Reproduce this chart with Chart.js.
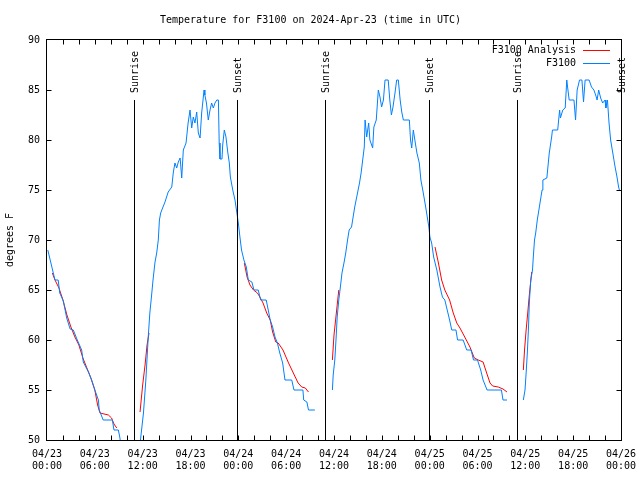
<!DOCTYPE html>
<html>
<head>
<meta charset="utf-8">
<title>Temperature for F3100</title>
<script src="https://cdn.jsdelivr.net/npm/chart.js@4/dist/chart.umd.min.js"></script>
<style>
	html, body { margin: 0; padding: 0; background: #ffffff; }
	canvas { display: block; }
</style>
</head>
<body>
<canvas id="chart" width="640" height="480"></canvas>
<script>

// hours since 2024-04-23 00:00 UTC, null marks a gap in the record

const obsHours = [
	0.1, 0.55, 1.0, 1.4, 1.6, 2.05, 2.47, 2.9, 3.3, 3.8, 4.35, 4.55, 5.2, 5.6, 6.0, 6.45, 6.55, 7.05, 8.2, 8.4, 8.95, 9.15, 9.3,
	10.5,
	11.6, 11.75, 12.1, 12.4, 12.7, 12.9, 13.1, 13.3, 13.55, 13.76,
	13.96, 14.1, 14.26, 14.5, 14.8, 15.2, 15.65, 15.85, 16.05, 16.27,
	16.47, 16.7, 16.9, 17.1, 17.44, 17.7, 17.94, 18.15, 18.35, 18.56,
	18.78, 18.98, 19.2, 19.4, 19.7, 19.8, 20.0, 20.23, 20.45, 20.65,
	20.86, 21.07, 21.3, 21.5, 21.6, 21.7, 21.95, 22.04, 22.24, 22.45,
	22.67, 22.87, 23.0, 23.3, 23.58, 23.8, 24.0, 24.2, 24.4, 24.7,
	25.0, 25.25, 25.7, 25.96, 26.5, 26.8, 27.5, 27.75, 28.0, 28.3,
	28.6, 28.9, 29.2, 29.56, 29.85, 30.7, 30.98, 32.1, 32.2, 32.6, 32.8, 33.6,
	34.7,
	35.8, 35.9, 36.1, 36.25, 36.4, 36.6, 36.8, 37.0, 37.25, 37.47,
	37.7, 37.9, 38.2, 38.4, 38.6, 38.9, 39.2, 39.4, 39.6, 39.8,
	39.9, 40.1, 40.35, 40.5, 40.85, 41.0, 41.3, 41.56, 41.77, 41.97,
	42.2, 42.4, 42.8, 43.0, 43.2, 43.4, 43.65, 43.86, 44.07, 44.3,
	44.5, 44.7, 45.45, 45.6, 45.75, 45.95, 46.2, 46.4, 46.7, 46.9,
	47.2, 47.5, 47.7, 47.9, 48.03, 48.25, 48.5, 48.9, 49.3, 49.6,
	49.9, 50.2, 50.5, 50.77, 51.3, 51.5, 52.2, 52.65, 53.2, 53.5,
	54.0, 54.4, 54.7, 55.2, 57.0, 57.2, 57.7,
	58.7,
	59.75, 59.96, 60.1, 60.25, 60.4, 60.5, 60.68, 60.9, 61.0, 61.15,
	61.3, 61.5, 61.7, 61.9, 62.1, 62.2, 62.7, 63.0, 63.3, 63.4,
	64.06, 64.3, 64.4, 64.7, 65.0, 65.2, 65.3, 65.5, 66.1, 66.3,
	66.5, 66.8, 67.1, 67.3, 67.5, 68.0, 68.3, 68.6, 68.9, 69.0,
	69.2, 69.45, 69.7, 70.0, 70.1, 70.3, 70.5, 70.7, 70.97, 71.26,
	71.5, 71.7, 71.8
];

const obsTemps = [
	69, 67.5, 66, 66, 64.7, 63.9, 62.2, 61.1, 61, 60, 59, 57.8, 56.8, 56, 55, 54, 53, 52, 52, 51, 51, 50.2, 49,
	null,
	49, 50.2, 52.7, 56, 60.3, 62.7, 64.3, 66, 67.8, 68.7,
	70, 72, 72.7, 73.2, 73.8, 74.8, 75.3, 76.8, 77.7, 77.2,
	77.8, 78.2, 76.2, 79, 79.7, 81.7, 83, 81.2, 82.3, 81.7,
	82.8, 80.7, 80.2, 82.7, 85, 84.5, 83.7, 82, 83, 83.7,
	83.2, 83.7, 84, 84, 79.7, 78.1, 78.1, 79.5, 81, 80.3,
	78.8, 77.7, 76.3, 75, 74, 72.8, 71.7, 70.3, 69, 68,
	67.3, 66, 65.8, 65, 65, 64, 64, 63, 62, 61.3,
	60.3, 59.7, 58.7, 57.7, 56, 56, 55, 55, 54, 53.8, 53, 53,
	null,
	55, 56.5, 58, 60, 62.3, 64, 65.3, 66.7, 67.7, 68.7,
	70, 71, 71.3, 72.3, 73.3, 74.5, 75.7, 76.7, 78, 79.3,
	82, 80.3, 81.7, 80, 79.2, 81.3, 82, 85, 84.3, 83.3,
	84, 86, 86, 84, 82.5, 83.3, 84.7, 86, 86, 84,
	82.8, 82, 82, 80, 79.2, 81, 79.7, 78.7, 77.7, 76,
	74.7, 73.3, 72.3, 71.3, 70.3, 69.7, 68.3, 67, 65.3, 64.3,
	64, 63, 62, 61, 61, 60, 60, 59, 59, 58,
	58, 57, 56, 55, 55, 54, 54,
	null,
	54, 55, 56.7, 58.7, 61.3, 63.7, 66, 67, 68.3, 70,
	70.7, 72, 73, 74, 75, 76, 76.2, 78.7, 80.3, 81,
	81, 83, 82.2, 83, 83.2, 86, 85.3, 84, 84, 82,
	85, 86, 86, 83.8, 86, 86, 85.3, 85, 84.3, 84,
	85, 84.2, 83.7, 84, 83.2, 84, 81.7, 80, 78.7, 77.3,
	76.3, 75.3, 75
];

const anaHours = [
	0.67, 1.0, 1.5, 2.0, 2.5, 3.0, 3.5, 4.0, 4.5, 5.0, 5.5, 6.0, 6.35, 6.65, 7.7, 8.1, 8.4, 8.75,
	10,
	11.67, 12.0, 12.3, 12.55, 12.8,
	18,
	24.75, 25.1, 25.46, 25.9, 26.4, 26.7, 27.1, 27.56, 28.0, 28.3,
	28.7, 29.0, 29.6, 30.3, 30.9, 31.5, 31.95, 32.4, 32.8,
	34,
	35.8, 36.0, 36.2, 36.4, 36.6,
	42,
	48.67, 49.1, 49.5, 49.9, 50.5, 50.96, 51.4, 51.8, 52.4, 53.05,
	53.6, 54.1, 54.7, 55.15, 55.57, 55.9, 56.6, 57.2, 57.7,
	58.5,
	59.75, 59.9, 60.1, 60.3, 60.5, 60.8
];

const anaTemps = [
	66.7, 66, 65.2, 64, 62.5, 61.3, 60.3, 59.5, 58.2, 57.2, 56.2, 55, 53.5, 52.7, 52.5, 52.2, 51.6, 51.2,
	null,
	52.8, 55.5, 57.5, 59.5, 60.7,
	null,
	67.7, 66.3, 65.5, 65, 64.7, 64.3, 63.7, 62.7, 62, 60.8,
	59.8, 59.7, 59, 57.7, 56.7, 55.7, 55.3, 55.2, 54.8,
	null,
	58, 60.5, 62, 63.5, 65,
	null,
	69.3, 67.7, 66, 65, 64, 62.7, 61.7, 61.2, 60.3, 59.3,
	58.2, 58, 57.8, 56.7, 55.7, 55.4, 55.3, 55.1, 54.8,
	null,
	57, 59, 61, 62.7, 64.5, 66.8
];

const sunriseHours = [ 10.9, 34.87, 58.95 ];
const sunsetHours = [ 23.83, 47.92, 71.95 ];

const dayLabels = [ '04/23', '04/23', '04/23', '04/23', '04/24', '04/24', '04/24', '04/24', '04/25', '04/25', '04/25', '04/25', '04/26' ];
const timeLabels = [ '00:00', '06:00', '12:00', '18:00', '00:00', '06:00', '12:00', '18:00', '00:00', '06:00', '12:00', '18:00', '00:00' ];

const OBS_COLOUR = '#0080ff';
const ANA_COLOUR = '#ff0000';
const FONT = { family: '"DejaVu Sans Mono", "Liberation Mono", monospace', size: 10, weight: 'normal', lineHeight: 1.2 };
const FONT_CSS = '10px "DejaVu Sans Mono", "Liberation Mono", monospace';

function toPoints ( hours, temps ) {

	return hours.map( ( h, i ) => ( { x: h, y: temps[ i ] } ) );

}

// gnuplot style frame, inward ticks and sunrise / sunset markers

const framePlugin = {

	id: 'frame',

	afterDatasetsDraw ( chart ) {

		const { ctx, chartArea: area, scales: { x, y } } = chart;

		const left = Math.round( area.left ) - 0.5;
		const right = Math.round( area.right ) + 0.5;
		const top = Math.round( area.top ) - 0.5;
		const bottom = Math.round( area.bottom ) + 0.5;
		const tic = 5;

		ctx.save();
		ctx.strokeStyle = '#000000';
		ctx.lineWidth = 1;

		ctx.beginPath();

		for ( let h = 2; h < 72; h += 2 ) {

			const px = Math.round( x.getPixelForValue( h ) ) + 0.5;
			ctx.moveTo( px, bottom );
			ctx.lineTo( px, bottom - tic );
			ctx.moveTo( px, top );
			ctx.lineTo( px, top + tic );

		}

		for ( let t = 55; t < 90; t += 5 ) {

			const py = Math.round( y.getPixelForValue( t ) ) + 0.5;
			ctx.moveTo( left, py );
			ctx.lineTo( left + tic, py );
			ctx.moveTo( right, py );
			ctx.lineTo( right - tic, py );

		}

		ctx.stroke();

		ctx.strokeRect( left, top, right - left, bottom - top );

		// sunrise and sunset lines

		ctx.font = FONT_CSS;
		ctx.fillStyle = '#000000';
		ctx.textAlign = 'left';
		ctx.textBaseline = 'middle';

		const marks = [];
		sunriseHours.forEach( h => marks.push( [ h, 'Sunrise' ] ) );
		sunsetHours.forEach( h => marks.push( [ h, 'Sunset' ] ) );

		marks.forEach( ( [ h, text ] ) => {

			const px = Math.round( x.getPixelForValue( h ) ) + 0.5;

			ctx.beginPath();
			ctx.moveTo( px, 100 );
			ctx.lineTo( px, bottom );
			ctx.stroke();

			ctx.save();
			ctx.translate( px + 1, 93 );
			ctx.rotate( - Math.PI / 2 );
			ctx.fillText( text, 0, 0 );
			ctx.restore();

		} );

		// key, top right inside the frame

		const key = [ [ 'F3100 Analysis', ANA_COLOUR ], [ 'F3100', OBS_COLOUR ] ];

		ctx.textAlign = 'right';

		key.forEach( ( [ text, colour ], i ) => {

			const ky = 50 + i * 13;
			ctx.fillStyle = '#000000';
			ctx.fillText( text, 576, ky );
			ctx.strokeStyle = colour;
			ctx.beginPath();
			ctx.moveTo( 583, ky + 0.5 );
			ctx.lineTo( 610, ky + 0.5 );
			ctx.stroke();

		} );

		ctx.restore();

	}

};

new Chart( document.getElementById( 'chart' ), {
	type: 'line',
	data: {
		datasets: [ {
			label: 'F3100',
			data: toPoints( obsHours, obsTemps ),
			borderColor: OBS_COLOUR,
			borderWidth: 1,
			pointRadius: 0,
			tension: 0,
			spanGaps: false
		}, {
			label: 'F3100 Analysis',
			data: toPoints( anaHours, anaTemps ),
			borderColor: ANA_COLOUR,
			borderWidth: 1,
			pointRadius: 0,
			tension: 0,
			spanGaps: false
		} ]
	},
	options: {
		responsive: false,
		animation: false,
		events: [],
		layout: {
			padding: { left: 0, right: 19, top: 0, bottom: 0 }
		},
		plugins: {
			legend: { display: false },
			tooltip: { enabled: false },
			title: {
				display: true,
				text: 'Temperature for F3100 on 2024-Apr-23 (time in UTC)',
				color: '#000000',
				font: FONT,
				padding: { top: 14, bottom: 14 }
			}
		},
		scales: {
			x: {
				type: 'linear',
				min: 0,
				max: 72,
				grid: { display: false, drawTicks: false, tickLength: 0 },
				border: { display: false },
				ticks: {
					stepSize: 6,
					autoSkip: false,
					maxRotation: 0,
					padding: 8,
					color: '#000000',
					font: FONT,
					callback: v => [ dayLabels[ v / 6 ], timeLabels[ v / 6 ] ]
				},
				afterFit: scale => {

					scale.height = 40;
					scale.paddingLeft = 0;
					scale.paddingRight = 0;

				}
			},
			y: {
				min: 50,
				max: 90,
				grid: { display: false, drawTicks: false, tickLength: 0 },
				border: { display: false },
				ticks: {
					stepSize: 5,
					padding: 7,
					color: '#000000',
					font: FONT
				},
				title: {
					display: true,
					text: 'degrees F',
					color: '#000000',
					font: FONT,
					padding: { top: 4, bottom: 0 }
				},
				afterFit: scale => { scale.width = 47; }
			}
		}
	},
	plugins: [ framePlugin ]
} );

</script>
</body>
</html>
